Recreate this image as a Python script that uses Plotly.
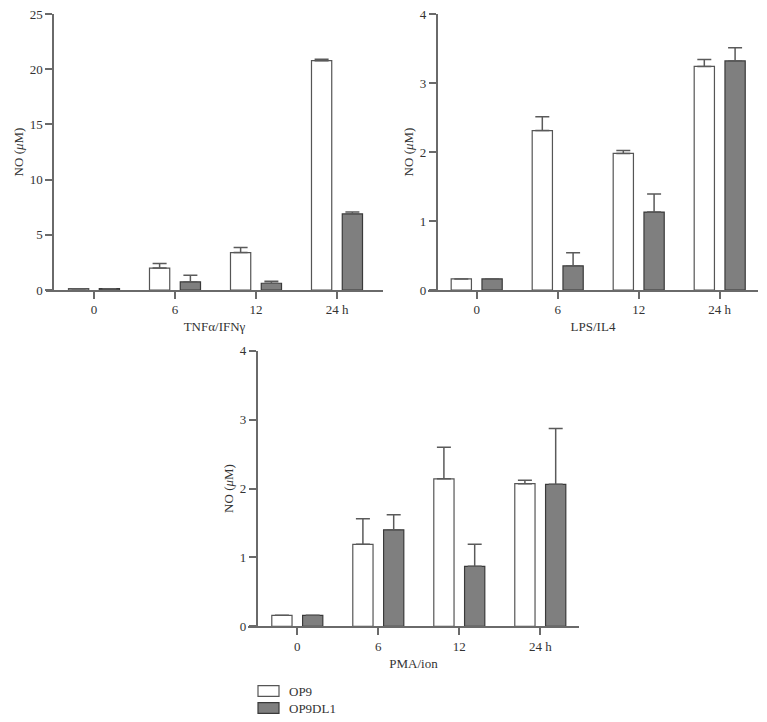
import plotly.graph_objects as go

W, H = 767, 722
OX, OY = 8, 8  # page body margin of the browser

time_labels = ["0", "6", "12", "24 h"]

# TNFα/IFNγ panel
tnf_op9 = [0.12, 1.99, 3.39, 20.77]
tnf_op9_err = [0.0, 0.42, 0.45, 0.13]
tnf_dl1 = [0.12, 0.73, 0.61, 6.89]
tnf_dl1_err = [0.0, 0.60, 0.18, 0.18]

# LPS/IL4 panel
lps_op9 = [0.16, 2.31, 1.98, 3.24]
lps_op9_err = [0.0, 0.20, 0.04, 0.10]
lps_dl1 = [0.16, 0.35, 1.13, 3.32]
lps_dl1_err = [0.0, 0.19, 0.26, 0.19]

# PMA/ion panel
pma_op9 = [0.16, 1.19, 2.14, 2.07]
pma_op9_err = [0.0, 0.37, 0.46, 0.05]
pma_dl1 = [0.16, 1.40, 0.87, 2.06]
pma_dl1_err = [0.0, 0.22, 0.32, 0.81]

series_names = ["OP9", "OP9DL1"]
panel_titles = ["TNFα/IFNγ", "LPS/IL4", "PMA/ion"]

FONT = "Liberation Serif"
FS = 13
AXC = "#6a6a6a"
TXT = "#333333"
FILL = ["#ffffff", "#7f7f7f"]
EDGE = ["#555555", "#3a3a3a"]
ERRC = "#5a5a5a"

panels = [
    (tnf_op9, tnf_op9_err, tnf_dl1, tnf_dl1_err),
    (lps_op9, lps_op9_err, lps_dl1, lps_dl1_err),
    (pma_op9, pma_op9_err, pma_dl1, pma_dl1_err),
]

fig = go.Figure()
axis_suffix = ["", "2", "3"]
BW = 0.25
offsets = [-0.315, 0.065]

for p, (a, ae, b, be) in enumerate(panels):
    sfx = axis_suffix[p]
    for s, (vals, errs) in enumerate([(a, ae), (b, be)]):
        fig.add_trace(go.Bar(
            x=time_labels, y=vals,
            name=series_names[s],
            showlegend=False,
            width=BW, offset=offsets[s],
            marker=dict(color=FILL[s], line=dict(color=EDGE[s], width=1.2)),
            error_y=dict(type="data", symmetric=False, array=errs,
                         arrayminus=[0] * len(errs),
                         color=ERRC, thickness=1.5, width=7),
            xaxis="x" + sfx, yaxis="y" + sfx,
        ))

def px_x(v):
    return (v - OX) / W

def px_y(v):
    return 1 - (v - OY) / H

# geometry in screen pixels: (x_left, x_right, yaxis_x, first_tick_x, y_top, y_bottom, ymax, dtick)
geo = [
    (46, 383, 53, 94, 14, 290, 25, 5),
    (428, 758, 436.7, 476.7, 14, 290, 4, 1),
    (248, 579, 256.7, 297.3, 350.7, 626.3, 4, 1),
]
step = 81.0

layout = dict(
    width=W, height=H,
    margin=dict(l=0, r=0, t=0, b=0, autoexpand=False),
    paper_bgcolor="white", plot_bgcolor="white",
    font=dict(family=FONT, size=FS, color=TXT),
    barmode="overlay",
    showlegend=False,
)

for p, (xl, xr, yx, t0, yt, yb, ymax, dt) in enumerate(geo):
    sfx = axis_suffix[p]
    r0 = -(t0 - xl) / step
    r1 = (xr - t0) / step
    layout["xaxis" + sfx] = dict(
        domain=[px_x(xl), px_x(xr)],
        anchor="y" + sfx, automargin=False,
        type="category",
        categoryorder="array", categoryarray=time_labels,
        range=[r0, r1],
        showline=True, linecolor=AXC, linewidth=1.5,
        ticks="outside", ticklen=7, tickwidth=1.5, tickcolor=AXC,
        showgrid=False, zeroline=False,
        ticklabeloverflow="allow",
        tickfont=dict(family=FONT, size=FS, color=TXT),
        title=dict(text=panel_titles[p], standoff=6,
                   font=dict(family=FONT, size=FS, color=TXT)),
    )
    layout["yaxis" + sfx] = dict(
        domain=[px_y(yb), px_y(yt)],
        anchor="free", position=px_x(yx), automargin=False,
        range=[0, ymax], dtick=dt, tick0=0,
        showline=True, linecolor=AXC, linewidth=1.5,
        ticks="outside", ticklen=7, tickwidth=1.5, tickcolor=AXC,
        showgrid=False, zeroline=False,
        ticklabeloverflow="allow",
        tickfont=dict(family=FONT, size=FS, color=TXT),
        title=dict(text="NO (<i>μ</i>M)", standoff=2,
                   font=dict(family=FONT, size=FS, color=TXT)),
    )

# legend drawn as swatches + labels
shapes = []
annotations = []
leg_rows = [691, 708]
for s in range(2):
    cy = leg_rows[s]
    shapes.append(dict(type="rect", xref="paper", yref="paper",
                       x0=px_x(258), x1=px_x(279), y0=px_y(cy + 5.3), y1=px_y(cy - 5.3),
                       fillcolor=FILL[s], line=dict(color=EDGE[s], width=1.2)))
    annotations.append(dict(xref="paper", yref="paper", x=px_x(287), y=px_y(cy),
                            xanchor="left", yanchor="middle", showarrow=False,
                            text=series_names[s],
                            font=dict(family=FONT, size=FS, color=TXT)))
layout["shapes"] = shapes
layout["annotations"] = annotations

fig.update_layout(**layout)
fig.write_html("out.html")
